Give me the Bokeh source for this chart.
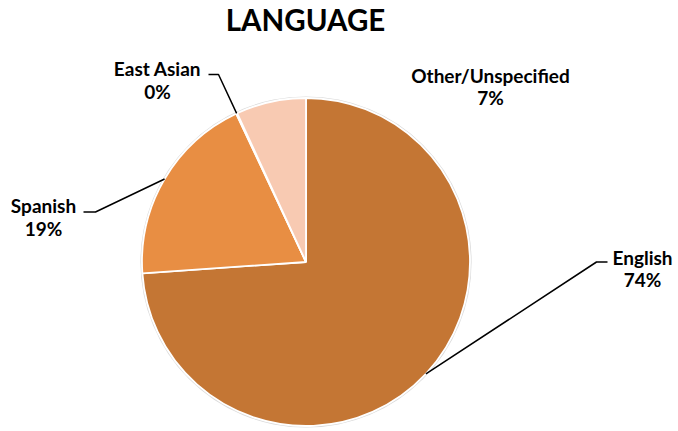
import numpy as np
from bokeh.plotting import figure
from bokeh.models import Range1d
from bokeh.core.properties import value
from bokeh.embed import file_html
from bokeh.resources import INLINE

# ---- data ----
categories = ["English", "Spanish", "East Asian", "Other/Unspecified"]
shares = [73.9, 19.1, 0.1, 6.9]
colors = ["#C47634", "#E88E43", "#E88E43", "#F8CAB2"]
title_text = "LANGUAGE"

# ---- layout (screen-like coordinates: x right, y = -screen_y) ----
W, H = 678, 431
CX, CY, R = 305.5, -261.5, 164.0
FONT = "Lato"

p = figure(width=W, height=H, x_range=Range1d(0, W), y_range=Range1d(-H, 0),
           output_backend="svg", toolbar_location=None, min_border=0,
           x_axis_type=None, y_axis_type=None)
p.grid.visible = False
p.outline_line_color = None
p.background_fill_color = "white"
p.border_fill_color = "white"

vals = np.array(shares, dtype=float)
frac = vals / vals.sum()
ends = np.pi / 2 - 2 * np.pi * np.cumsum(frac)
starts = np.concatenate([[np.pi / 2], ends[:-1]])
mids = (starts + ends) / 2

# faint outer edge
p.circle(x=[CX], y=[CY], radius=R + 1.6, fill_color="#DADADA", line_color=None)
p.wedge(x=CX, y=CY, radius=R, start_angle=starts, end_angle=ends, direction="clock",
        fill_color=colors, line_color="white", line_width=1.8)

# title
p.text(x=[305], y=[-19], text=[title_text], text_align="center", text_baseline="middle",
       text_font=value(FONT), text_font_style="bold", text_font_size="29.5px", text_color="black")

# label positions (name line center, percent line center)
label_pos = {
    "English": (642, -257, -279),
    "Spanish": (43, -205, -228),
    "East Asian": (157, -68, -91),
    "Other/Unspecified": (490, -75, -97),
}
# leader lines: (text-side start x, elbow x, y)
leaders = {
    "English": (607, 596, -261.5),
    "Spanish": (83, 95, -211.5),
    "East Asian": (208, 218, -74),
}

for i, cat in enumerate(categories):
    lx, ly1, ly2 = label_pos[cat]
    pct = f"{int(round(shares[i]))}%"
    p.text(x=[lx, lx], y=[ly1, ly2], text=[cat, pct], text_align="center",
           text_baseline="middle", text_font=value(FONT), text_font_style="bold",
           text_font_size="19px", text_color="black")
    if cat in leaders:
        sx, ex, yy = leaders[cat]
        px = CX + R * np.cos(mids[i])
        py = CY + R * np.sin(mids[i])
        p.line(x=[sx, ex, px], y=[yy, yy, py], line_color="black", line_width=1.5)

open("out.html", "w").write(file_html(p, INLINE))
